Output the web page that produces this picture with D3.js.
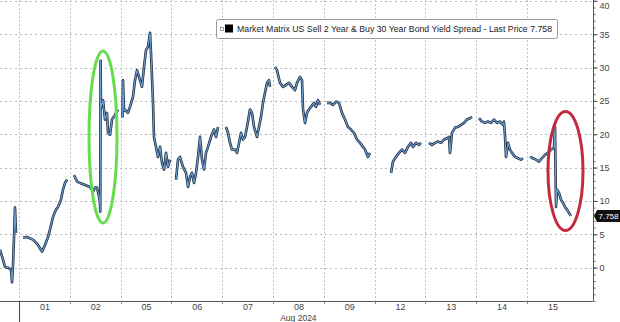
<!DOCTYPE html>
<html>
<head>
<meta charset="utf-8">
<script src="https://cdn.jsdelivr.net/npm/d3@7"></script>
<style>
  body { margin: 0; background: #fff; }
  svg { display: block; font-family: "Liberation Sans", Arial, sans-serif; }
</style>
</head>
<body>
<div id="chart"></div>
<script>
// ---- data ----
var dayLabels = ["01", "02", "05", "06", "07", "08", "09", "12", "13", "14", "15"];
var monthLabel = "Aug 2024";
var yTicks = [0, 5, 10, 15, 20, 25, 30, 35, 40];
var legendText = "Market Matrix US Sell 2 Year & Buy 30 Year Bond Yield Spread - Last Price 7.758";
var lastPrice = 7.758;

// time in trading days since the Aug 01 open (negative = Jul 31)
var spreadTime = [
  -0.374, -0.315, -0.276, -0.217, -0.157, -0.138, -0.118, -0.098, -0.079, -0.059,
  0.079, 0.157, 0.276, 0.374, 0.453, 0.512, 0.571, 0.610, 0.669, 0.728, 0.768, 0.827, 0.866, 0.906, 0.945,
  1.083, 1.142, 1.201, 1.299, 1.398, 1.457, 1.496, 1.535, 1.575, 1.594, 1.600, 1.606, 1.614, 1.654, 1.693, 1.732, 1.752, 1.791, 1.831, 1.890, 1.949,
  2.037, 2.047, 2.067, 2.087, 2.146, 2.185, 2.244, 2.283, 2.323, 2.382, 2.421, 2.461, 2.500, 2.539, 2.579, 2.598, 2.618, 2.638, 2.657, 2.697, 2.736, 2.776, 2.815, 2.854, 2.894, 2.933, 2.972,
  3.091, 3.130, 3.169, 3.228, 3.287, 3.327, 3.366, 3.406, 3.445, 3.484, 3.524, 3.563, 3.602, 3.642, 3.681, 3.720, 3.780, 3.839, 3.878, 3.917,
  4.075, 4.114, 4.154, 4.193, 4.252, 4.291, 4.331, 4.370, 4.409, 4.449, 4.488, 4.547, 4.587, 4.626, 4.685, 4.724, 4.764, 4.803, 4.843, 4.882, 4.921, 4.941,
  5.039, 5.079, 5.138, 5.197, 5.256, 5.315, 5.374, 5.433, 5.472, 5.531, 5.571, 5.591, 5.630, 5.669, 5.709, 5.748, 5.807, 5.846, 5.886, 5.925,
  6.063, 6.122, 6.181, 6.240, 6.299, 6.358, 6.417, 6.476, 6.535, 6.594, 6.654, 6.713, 6.772, 6.811, 6.870, 6.909,
  7.323, 7.362, 7.421, 7.480, 7.539, 7.598, 7.657, 7.717, 7.756, 7.815, 7.874, 7.913,
  8.071, 8.130, 8.189, 8.248, 8.307, 8.366, 8.425, 8.465, 8.484, 8.524, 8.583, 8.642, 8.701, 8.760, 8.819, 8.878, 8.917,
  9.055, 9.114, 9.173, 9.232, 9.291, 9.350, 9.409, 9.469, 9.528, 9.547, 9.567, 9.587, 9.626, 9.665, 9.705, 9.764, 9.823, 9.882, 9.921,
  10.059, 10.118, 10.177, 10.236, 10.295, 10.354, 10.413, 10.472, 10.531, 10.551, 10.571, 10.591, 10.630, 10.669, 10.709, 10.748, 10.787, 10.827, 10.866
];
var spreadValue = [
  2.7, 1.2, 0.1, 0.0, -0.3, -2.2, 0.4, 4.6, 9.0, 5.2,
  4.5, 4.6, 4.2, 3.4, 2.4, 3.4, 4.6, 5.7, 7.6, 8.7, 9.1, 10.2, 11.7, 12.7, 13.2,
  13.9, 12.9, 12.7, 12.4, 12.1, 11.4, 12.0, 12.0, 10.6, 9.7, 8.4, 31.0, 24.0, 25.1, 22.2, 23.2, 20.2, 19.9, 22.2, 22.9, 23.7,
  22.5, 28.1, 23.5, 23.7, 23.2, 24.1, 25.6, 28.1, 29.6, 28.1, 27.1, 30.1, 32.6, 33.1, 35.2, 32.2, 28.6, 24.7, 19.6, 18.1, 16.6, 18.1, 15.7, 14.7, 17.2, 15.1, 16.2,
  13.2, 16.2, 16.6, 15.1, 14.2, 12.1, 13.6, 14.2, 12.7, 14.2, 16.6, 19.6, 16.2, 14.7, 17.2, 18.1, 19.6, 20.7, 19.6, 21.1,
  21.1, 20.2, 18.7, 17.7, 17.7, 17.2, 18.7, 20.2, 19.2, 19.6, 21.1, 23.7, 23.2, 21.1, 19.6, 21.1, 22.6, 24.7, 26.2, 27.7, 28.1, 27.1,
  30.1, 29.6, 27.7, 27.1, 27.4, 27.7, 27.1, 26.6, 27.7, 28.6, 28.1, 23.7, 21.7, 23.2, 23.7, 24.1, 24.7, 24.1, 25.1, 24.4,
  24.7, 24.7, 24.4, 24.9, 24.7, 23.2, 22.2, 21.1, 20.7, 20.2, 19.2, 18.7, 18.1, 17.7, 16.6, 17.2,
  14.2, 15.9, 16.6, 17.2, 17.7, 17.2, 18.1, 18.7, 18.1, 18.7, 18.4, 18.7,
  18.7, 18.4, 18.7, 18.9, 18.7, 19.2, 19.4, 19.6, 17.2, 20.2, 21.0, 21.1, 21.4, 21.7, 22.2, 22.4, 22.6,
  22.4, 21.9, 21.7, 21.9, 21.7, 22.2, 21.7, 21.9, 21.4, 21.9, 19.7, 16.6, 18.7, 17.7, 17.2, 16.6, 16.4, 16.2, 16.4,
  16.6, 16.4, 16.2, 15.9, 16.4, 16.9, 17.2, 17.7, 18.0, 21.1, 9.1, 11.7, 11.2, 10.2, 9.7, 9.1, 8.7, 8.2, 7.758
];

// ---- layout ----
var width = 620, height = 322;
var axisX = 593, axisY = 301;

var svg = d3.select("#chart").append("svg")
    .attr("width", width)
    .attr("height", height);

var x = d3.scaleLinear().domain([0, 11]).range([19, 577.8]);
var y = d3.scaleLinear().domain([-5, 40]).range([axisY, 0.8]);

// gridlines
svg.append("g").selectAll("line")
    .data(yTicks)
    .enter().append("line")
      .attr("x1", 0).attr("x2", axisX)
      .attr("y1", function(d) { return Math.round(y(d)) + 0.5; })
      .attr("y2", function(d) { return Math.round(y(d)) + 0.5; })
      .attr("stroke", "#b8b8b8")
      .attr("stroke-dasharray", "2,3");

svg.append("g").selectAll("line")
    .data(d3.range(0, 11))
    .enter().append("line")
      .attr("x1", function(d) { return Math.round(x(d)) + 0.5; })
      .attr("x2", function(d) { return Math.round(x(d)) + 0.5; })
      .attr("y1", 0).attr("y2", axisY)
      .attr("stroke", "#c4c4c4")
      .attr("stroke-dasharray", "2,2");

// series, one path per trading day
var points = spreadTime.map(function(t, i) { return { t: t, v: spreadValue[i] }; });
var byDay = d3.groups(points, function(d) { return Math.floor(d.t); });

var line = d3.line()
    .x(function(d) { return x(d.t); })
    .y(function(d) { return y(d.v); });

var series = svg.append("g");
byDay.forEach(function(g) {
  series.append("path")
      .datum(g[1])
      .attr("d", line)
      .attr("fill", "none")
      .attr("stroke", "#1d2d40")
      .attr("stroke-width", 2.6)
      .attr("stroke-linejoin", "round");
  series.append("path")
      .datum(g[1])
      .attr("d", line)
      .attr("fill", "none")
      .attr("stroke", "#6b9fd3")
      .attr("stroke-width", 1.1)
      .attr("stroke-linejoin", "round");
});

// axes
svg.append("line")
    .attr("x1", 0).attr("x2", axisX)
    .attr("y1", axisY + 0.5).attr("y2", axisY + 0.5)
    .attr("stroke", "#555");

var xAxis = svg.append("g")
    .attr("transform", "translate(0," + axisY + ")")
    .call(d3.axisBottom(x)
      .tickValues(dayLabels.map(function(d, i) { return i + 0.5; }))
      .tickFormat(function(d, i) { return dayLabels[i]; })
      .tickSize(0)
      .tickPadding(3));
xAxis.select(".domain").remove();
xAxis.selectAll("text").attr("font-size", "9px").attr("fill", "#444");

// day boundary ticks, month boundary longer
svg.append("g").selectAll("line")
    .data(d3.range(0, 11))
    .enter().append("line")
      .attr("x1", function(d) { return Math.round(x(d)) + 0.5; })
      .attr("x2", function(d) { return Math.round(x(d)) + 0.5; })
      .attr("y1", axisY)
      .attr("y2", function(d) { return d === 0 ? height : axisY + 3; })
      .attr("stroke", function(d) { return d === 0 ? "#444" : "#888"; });

svg.append("text")
    .attr("x", x(5.5))
    .attr("y", 321)
    .attr("text-anchor", "middle")
    .attr("font-size", "8.5px")
    .attr("fill", "#444")
    .text(monthLabel);

var yMinor = svg.append("g")
    .attr("transform", "translate(" + (axisX + 0.5) + ",0)")
    .call(d3.axisRight(y).ticks(45).tickSize(2).tickFormat(""));
yMinor.select(".domain").remove();
yMinor.selectAll("line").attr("stroke", "#666");

var yAxis = svg.append("g")
    .attr("transform", "translate(" + (axisX + 0.5) + ",0)")
    .call(d3.axisRight(y).tickValues(yTicks).tickSize(4).tickPadding(2));
yAxis.select(".domain").attr("stroke", "#555").attr("d", "M0," + axisY + "V0");
yAxis.selectAll("line").attr("stroke", "#444");
yAxis.selectAll("text").attr("font-size", "9px").attr("fill", "#444");
// keep the top label inside the frame
yAxis.selectAll(".tick").filter(function(d) { return d === 40; })
    .select("text").attr("dy", "0.85em");

// last price tag
var tagY = y(lastPrice);
svg.append("path")
    .attr("d", "M594," + tagY + "L597," + (tagY - 6) + "H620V" + (tagY + 6) + "H597Z")
    .attr("fill", "#111");
svg.append("text")
    .attr("x", 598.5)
    .attr("y", tagY + 3)
    .attr("font-size", "8px")
    .attr("fill", "#fff")
    .text(d3.format(".3f")(lastPrice));

// legend
var legend = svg.append("g");
legend.append("rect")
    .attr("x", 216.5).attr("y", 19.5)
    .attr("width", 341).attr("height", 19)
    .attr("rx", 2)
    .attr("fill", "#fff")
    .attr("stroke", "#999");
legend.append("rect")
    .attr("x", 220.5).attr("y", 27.5)
    .attr("width", 3).attr("height", 3)
    .attr("fill", "none")
    .attr("stroke", "#888")
    .attr("stroke-width", 0.8);
legend.append("rect")
    .attr("x", 225).attr("y", 24.5)
    .attr("width", 8).attr("height", 8)
    .attr("fill", "#000");
legend.append("text")
    .attr("x", 237)
    .attr("y", 32)
    .attr("font-size", "8.5px")
    .attr("fill", "#222")
    .attr("textLength", 315)
    .attr("lengthAdjust", "spacingAndGlyphs")
    .text(legendText);

// highlight ellipses
svg.append("ellipse")
    .attr("cx", 103).attr("cy", 137)
    .attr("rx", 14).attr("ry", 86)
    .attr("fill", "none")
    .attr("stroke", "#66dd4c")
    .attr("stroke-width", 3);

svg.append("ellipse")
    .attr("cx", 565.5).attr("cy", 171)
    .attr("rx", 17.5).attr("ry", 59.5)
    .attr("fill", "none")
    .attr("stroke", "#c42a3e")
    .attr("stroke-width", 3);
</script>
</body>
</html>
